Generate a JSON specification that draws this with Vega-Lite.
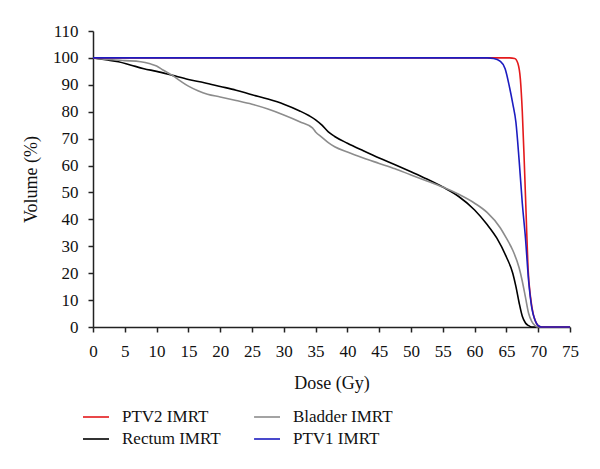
{
  "$schema": "https://vega.github.io/schema/vega-lite/v6.json",
  "autosize": {"type": "none"},
  "padding": {"left": 93, "top": 31, "right": 30, "bottom": 142},
  "width": 477,
  "height": 296,
  "background": "white",
  "config": {
    "view": {"stroke": null},
    "font": "Liberation Serif",
    "axis": {"labelFont": "Liberation Serif", "titleFont": "Liberation Serif", "labelFontSize": 17, "titleFontSize": 18, "titleFontWeight": "normal", "labelColor": "#111", "titleColor": "#111", "domainColor": "#222", "tickColor": "#222", "domainWidth": 1.5, "tickWidth": 1.5, "tickSize": 5, "grid": false},
    "legend": {"labelFont": "Liberation Serif", "labelFontSize": 17, "labelColor": "#111"}
  },
  "data": {"values": [
    {"s":"Rectum IMRT","d":0,"v":100},{"s":"Rectum IMRT","d":2,"v":99.3},{"s":"Rectum IMRT","d":4,"v":98.6},{"s":"Rectum IMRT","d":6,"v":97.3},{"s":"Rectum IMRT","d":8,"v":96},{"s":"Rectum IMRT","d":10,"v":95},{"s":"Rectum IMRT","d":12.5,"v":93.5},{"s":"Rectum IMRT","d":15,"v":92},{"s":"Rectum IMRT","d":17.5,"v":90.8},{"s":"Rectum IMRT","d":20,"v":89.4},{"s":"Rectum IMRT","d":22.5,"v":88},{"s":"Rectum IMRT","d":25,"v":86.3},{"s":"Rectum IMRT","d":27.5,"v":84.7},{"s":"Rectum IMRT","d":30,"v":82.8},{"s":"Rectum IMRT","d":32.5,"v":80.3},{"s":"Rectum IMRT","d":34,"v":78.5},{"s":"Rectum IMRT","d":35,"v":77},{"s":"Rectum IMRT","d":36,"v":75},{"s":"Rectum IMRT","d":37,"v":72.5},{"s":"Rectum IMRT","d":38,"v":70.8},{"s":"Rectum IMRT","d":40,"v":68.3},{"s":"Rectum IMRT","d":42.5,"v":65.5},{"s":"Rectum IMRT","d":45,"v":62.8},{"s":"Rectum IMRT","d":47.5,"v":60.3},{"s":"Rectum IMRT","d":50,"v":57.7},{"s":"Rectum IMRT","d":52.5,"v":55},{"s":"Rectum IMRT","d":55,"v":52},{"s":"Rectum IMRT","d":57.5,"v":48.5},{"s":"Rectum IMRT","d":60,"v":43.5},{"s":"Rectum IMRT","d":62,"v":38},{"s":"Rectum IMRT","d":63.5,"v":33},{"s":"Rectum IMRT","d":65,"v":26},{"s":"Rectum IMRT","d":66,"v":20},{"s":"Rectum IMRT","d":66.5,"v":15},{"s":"Rectum IMRT","d":67,"v":9},{"s":"Rectum IMRT","d":67.5,"v":4},{"s":"Rectum IMRT","d":68,"v":1.5},{"s":"Rectum IMRT","d":68.5,"v":0.5},{"s":"Rectum IMRT","d":69,"v":0},{"s":"Rectum IMRT","d":75,"v":0},
    {"s":"Bladder IMRT","d":0,"v":100},{"s":"Bladder IMRT","d":3,"v":99.3},{"s":"Bladder IMRT","d":5,"v":99},{"s":"Bladder IMRT","d":7.5,"v":98.6},{"s":"Bladder IMRT","d":9,"v":97.8},{"s":"Bladder IMRT","d":10,"v":97},{"s":"Bladder IMRT","d":11,"v":95.5},{"s":"Bladder IMRT","d":12.5,"v":93.5},{"s":"Bladder IMRT","d":14,"v":91},{"s":"Bladder IMRT","d":15,"v":89.5},{"s":"Bladder IMRT","d":16.5,"v":87.8},{"s":"Bladder IMRT","d":18,"v":86.5},{"s":"Bladder IMRT","d":20,"v":85.5},{"s":"Bladder IMRT","d":22.5,"v":84.2},{"s":"Bladder IMRT","d":25,"v":82.8},{"s":"Bladder IMRT","d":27.5,"v":81},{"s":"Bladder IMRT","d":30,"v":78.8},{"s":"Bladder IMRT","d":32.5,"v":76.3},{"s":"Bladder IMRT","d":34.5,"v":74},{"s":"Bladder IMRT","d":35,"v":72.5},{"s":"Bladder IMRT","d":36,"v":70.5},{"s":"Bladder IMRT","d":37,"v":68.5},{"s":"Bladder IMRT","d":38,"v":67},{"s":"Bladder IMRT","d":40,"v":65},{"s":"Bladder IMRT","d":42.5,"v":62.8},{"s":"Bladder IMRT","d":45,"v":60.8},{"s":"Bladder IMRT","d":47.5,"v":58.8},{"s":"Bladder IMRT","d":50,"v":56.5},{"s":"Bladder IMRT","d":52.5,"v":54.3},{"s":"Bladder IMRT","d":55,"v":52},{"s":"Bladder IMRT","d":57.5,"v":49.3},{"s":"Bladder IMRT","d":60,"v":46},{"s":"Bladder IMRT","d":62,"v":42.5},{"s":"Bladder IMRT","d":64,"v":37},{"s":"Bladder IMRT","d":65,"v":33},{"s":"Bladder IMRT","d":66,"v":28.5},{"s":"Bladder IMRT","d":67,"v":22},{"s":"Bladder IMRT","d":67.5,"v":17},{"s":"Bladder IMRT","d":68,"v":11},{"s":"Bladder IMRT","d":68.5,"v":5},{"s":"Bladder IMRT","d":69,"v":2},{"s":"Bladder IMRT","d":69.5,"v":0.5},{"s":"Bladder IMRT","d":70,"v":0},{"s":"Bladder IMRT","d":75,"v":0},
    {"s":"PTV2 IMRT","d":0,"v":100},{"s":"PTV2 IMRT","d":65.5,"v":100},{"s":"PTV2 IMRT","d":66.3,"v":99.8},{"s":"PTV2 IMRT","d":66.8,"v":98},{"s":"PTV2 IMRT","d":67.2,"v":92},{"s":"PTV2 IMRT","d":67.5,"v":80},{"s":"PTV2 IMRT","d":67.8,"v":62},{"s":"PTV2 IMRT","d":68.1,"v":42},{"s":"PTV2 IMRT","d":68.4,"v":22},{"s":"PTV2 IMRT","d":68.8,"v":11},{"s":"PTV2 IMRT","d":69.2,"v":5},{"s":"PTV2 IMRT","d":69.6,"v":2},{"s":"PTV2 IMRT","d":70,"v":0.5},{"s":"PTV2 IMRT","d":70.5,"v":0},{"s":"PTV2 IMRT","d":75,"v":0},
    {"s":"PTV1 IMRT","d":0,"v":100},{"s":"PTV1 IMRT","d":62,"v":100},{"s":"PTV1 IMRT","d":63,"v":99.8},{"s":"PTV1 IMRT","d":64,"v":98.8},{"s":"PTV1 IMRT","d":64.8,"v":96},{"s":"PTV1 IMRT","d":65.5,"v":89},{"s":"PTV1 IMRT","d":66,"v":83},{"s":"PTV1 IMRT","d":66.5,"v":76},{"s":"PTV1 IMRT","d":67,"v":62},{"s":"PTV1 IMRT","d":67.5,"v":46},{"s":"PTV1 IMRT","d":68,"v":33},{"s":"PTV1 IMRT","d":68.5,"v":17},{"s":"PTV1 IMRT","d":69,"v":7},{"s":"PTV1 IMRT","d":69.5,"v":2.5},{"s":"PTV1 IMRT","d":70,"v":0.5},{"s":"PTV1 IMRT","d":70.5,"v":0},{"s":"PTV1 IMRT","d":75,"v":0}
  ]},
  "mark": {"type": "line", "strokeWidth": 1.6, "interpolate": "monotone"},
  "encoding": {
    "x": {"field": "d", "type": "quantitative", "scale": {"domain": [0, 75], "nice": false}, "axis": {"title": "Dose (Gy)", "values": [0,5,10,15,20,25,30,35,40,45,50,55,60,65,70,75], "labelPadding": 11, "titlePadding": 15, "labelFlush": false}},
    "y": {"field": "v", "type": "quantitative", "scale": {"domain": [0, 110], "nice": false}, "axis": {"title": "Volume (%)", "values": [0,10,20,30,40,50,60,70,80,90,100,110], "labelPadding": 10, "titlePadding": 12, "labelFlush": false}},
    "color": {"field": "s", "type": "nominal", "sort": null,
      "scale": {"domain": ["PTV2 IMRT","Bladder IMRT","Rectum IMRT","PTV1 IMRT"], "range": ["#e41a1c","#8c8c8c","#000000","#1c1cc0"]},
      "legend": {"title": null, "orient": "none", "legendX": -11, "legendY": 372, "columns": 2, "symbolType": "stroke", "symbolSize": 676, "symbolStrokeWidth": 1.6, "labelOffset": 12, "columnPadding": 29, "rowPadding": 0, "direction": "horizontal"}
    }
  }
}
